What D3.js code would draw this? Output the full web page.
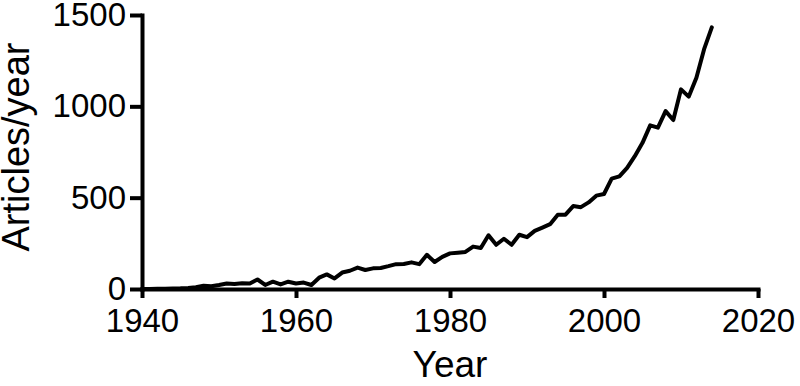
<!DOCTYPE html>
<html>
<head>
<meta charset="utf-8">
<script src="https://cdn.jsdelivr.net/npm/d3@7"></script>
<style>
  html, body { margin: 0; padding: 0; background: #fff; }
  svg { display: block; }
  text { font-family: "Liberation Sans", Arial, sans-serif; fill: #000; }
</style>
</head>
<body>
<svg id="chart" width="800" height="386"></svg>
<script>
const years = [1940,1941,1942,1943,1944,1945,1946,1947,1948,1949,
  1950,1951,1952,1953,1954,1955,1956,1957,1958,1959,
  1960,1961,1962,1963,1964,1965,1966,1967,1968,1969,
  1970,1971,1972,1973,1974,1975,1976,1977,1978,1979,
  1980,1981,1982,1983,1984,1985,1986,1987,1988,1989,
  1990,1991,1992,1993,1994,1995,1996,1997,1998,1999,
  2000,2001,2002,2003,2004,2005,2006,2007,2008,2009,
  2010,2011,2012,2013,2014];
const articles = [0,0,1,2,3,4,6,10,18,15,
  22,30,28,32,30,52,22,40,25,40,
  30,35,22,62,80,58,90,100,117,104,
  113,115,125,136,137,146,136,187,148,176,
  195,199,203,232,224,294,242,275,242,297,
  284,318,336,355,407,407,454,448,474,511,
  520,604,617,663,727,800,896,883,974,925,
  1093,1053,1157,1313,1432];
const xTicks = [1940,1960,1980,2000,2020];
const yTicks = [0,500,1000,1500];
const xTitle = "Year";
const yTitle = "Articles/year";

const svg = d3.select("#chart");
const mLeft = 142, mRight = 758, mTop = 15, mBottom = 289;

const x = d3.scaleLinear().domain([1940, 2020]).range([mLeft, mRight]);
const y = d3.scaleLinear().domain([0, 1500]).range([mBottom, mTop]);

const xAxis = svg.append("g")
  .attr("transform", `translate(0,${mBottom})`)
  .call(d3.axisBottom(x).tickValues(xTicks).tickFormat(d3.format("d"))
    .tickSizeInner(9).tickSizeOuter(0).tickPadding(11));
const yAxis = svg.append("g")
  .attr("transform", `translate(${mLeft},0)`)
  .call(d3.axisLeft(y).tickValues(yTicks).tickFormat(d3.format("d"))
    .tickSizeInner(12).tickSizeOuter(0).tickPadding(4));

[xAxis, yAxis].forEach(g => {
  g.select(".domain").attr("stroke", "#000").attr("stroke-width", 4).attr("stroke-linecap", "square");
  g.selectAll(".tick line").attr("stroke", "#000").attr("stroke-width", 4);
  g.selectAll(".tick text").attr("font-size", 33).attr("font-family", "Liberation Sans, Arial, sans-serif").attr("fill", "#000");
});

const data = years.map((yr, i) => ({ yr, v: articles[i] }));
svg.append("path")
  .datum(data)
  .attr("fill", "none")
  .attr("stroke", "#000")
  .attr("stroke-width", 4)
  .attr("stroke-linejoin", "round")
  .attr("stroke-linecap", "round")
  .attr("d", d3.line().x(d => x(d.yr)).y(d => y(d.v)));

svg.append("text")
  .attr("x", (mLeft + mRight) / 2)
  .attr("y", 377)
  .attr("text-anchor", "middle")
  .attr("font-size", 37)
  .text(xTitle);

svg.append("text")
  .attr("transform", `translate(29,${(mTop + mBottom) / 2 - 5}) rotate(-90)`)
  .attr("text-anchor", "middle")
  .attr("font-size", 38)
  .text(yTitle);
</script>
</body>
</html>
